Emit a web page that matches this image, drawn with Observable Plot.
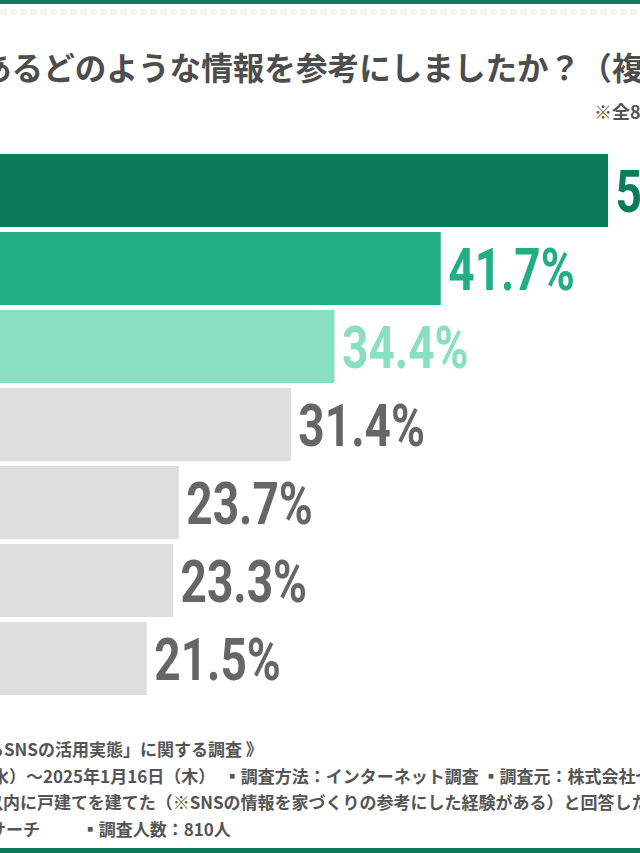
<!DOCTYPE html>
<html><head><meta charset="utf-8">
<script src="https://cdn.jsdelivr.net/npm/d3@7"></script>
<script src="https://cdn.jsdelivr.net/npm/@observablehq/plot@0.6"></script>
<style>
html,body{margin:0;padding:0;background:#fff;}
body{width:640px;height:853px;overflow:hidden;position:relative;font-family:"Noto Sans CJK JP",sans-serif;}
.band{position:absolute;left:0;width:640px;background:#0b7b5a;}
.faint{position:absolute;left:0;top:9px;width:640px;height:6px;background:repeating-linear-gradient(90deg,#f4f4f4 0 7px,#fff 7px 10px);}
.line{position:absolute;white-space:pre;color:#4d4d4d;font-weight:700;}
#title{font-size:31.6px;line-height:34px;top:49px;left:-20px;}
#note{font-size:18px;line-height:20px;top:101px;left:594px;color:#555;}
.foot{font-size:17px;line-height:22px;color:#555;font-weight:600;}
#chart{position:absolute;left:0;top:140px;}
</style></head>
<body>
<div class="band" style="top:0;height:4px"></div>
<div class="faint"></div>
<div class="line" id="title"></div>
<div class="line" id="note"></div>
<div id="chart"></div>
<div class="line foot" id="f1" style="top:738px;left:-13px"></div>
<div class="line foot" id="f2" style="top:765px;left:-8px"></div>
<div class="line foot" id="f3" style="top:791px;left:-14px"></div>
<div class="line foot" id="f4" style="top:818px;left:-11px"></div>
<div class="band" style="top:848px;height:5px"></div>
<script>
const titleText = "あるどのような情報を参考にしましたか？（複数回答可）";
const noteText = "※全810人";
const footLines = [
  "るSNSの活用実態」に関する調査 》",
  "水）～2025年1月16日（木）　▪調査方法：インターネット調査 ▪調査元：株式会社ゼネラルリサーチ",
  "以内に戸建てを建てた（※SNSの情報を家づくりの参考にした経験がある）と回答した男女",
  "サーチ　　  ▪調査人数：810人"
];
const categories = ["1位","2位","3位","4位","5位","6位","7位"];
const values = [53.2, 41.7, 34.4, 31.4, 23.7, 23.3, 21.5];

document.getElementById("title").textContent = titleText;
document.getElementById("note").textContent = noteText;
footLines.forEach((t,i)=>{document.getElementById("f"+(i+1)).textContent = t;});

const data = categories.map((c,i)=>({category:c, value:values[i]}));
const barColors = ["#0b7b5a","#22ae84","#89dfc1","#dedede","#dedede","#dedede","#dedede"];
const labelColors = ["#0b7b5a","#22ae84","#89dfc1","#666666","#666666","#666666","#666666"];
const labelColor = new Map(categories.map((c,i)=>[c,labelColors[i]]));

const chart = Plot.plot({
  width: 640,
  height: 580,
  marginLeft: 0, marginRight: 0, marginTop: 0, marginBottom: 0,
  x: {domain: [0, 50], range: [-166, 561.5], axis: null},
  y: {domain: categories, range: [8.6, 560.4], paddingInner: 0.06, paddingOuter: 0.03, axis: null},
  color: {domain: categories, range: barColors},
  marks: [
    Plot.barX(data, {x: "value", y: "category", fill: "category"}),
    Plot.text(data, {
      x: "value", y: "category",
      text: d => d.value.toFixed(1) + "%",
      textAnchor: "start", dx: 7, dy: 2,
      fontSize: 59, fontWeight: "bold",
      fontFamily: "Roboto",
      fill: d => labelColor.get(d.category)
    })
  ]
});
// condense the percentage labels horizontally (DIN-like narrow figures)
chart.querySelectorAll("text").forEach(t => {
  const tr = t.getAttribute("transform") || "";
  t.setAttribute("transform", tr + " scale(0.78,1)");
});
document.getElementById("chart").appendChild(chart);
</script>
</body></html>
